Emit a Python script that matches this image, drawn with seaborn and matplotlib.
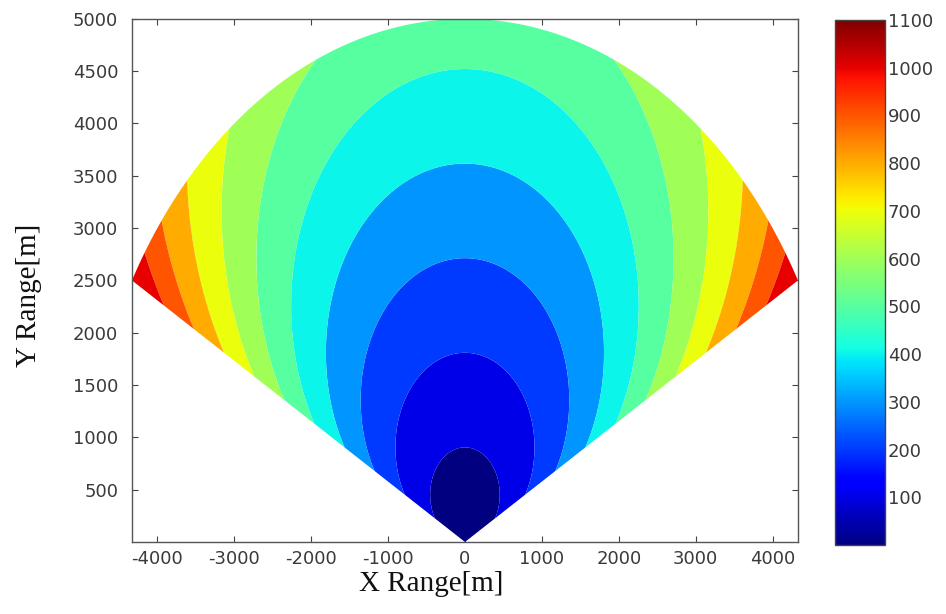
import numpy as np
import matplotlib
matplotlib.use('Agg')
import matplotlib.pyplot as plt
import seaborn as sns
from matplotlib.colors import Normalize
from matplotlib.cm import ScalarMappable

# values
levels = [0, 100, 200, 300, 400, 500, 600, 700, 800, 900, 1000, 1100]
axis_levels = [100, 200, 300, 400, 500]          # contour values crossing x = 0
axis_cross_y = [908, 1807, 2715, 3614, 4503]     # heights [m] where they cross
max_range = 5000                                 # sector radius [m]
sector_deg = [30, 150]                           # sector edges (deg from +x)
x_ticks = [-4000, -3000, -2000, -1000, 0, 1000, 2000, 3000, 4000]
y_ticks = [500, 1000, 1500, 2000, 2500, 3000, 3500, 4000, 4500, 5000]
cbar_ticks = [100, 200, 300, 400, 500, 600, 700, 800, 900, 1000, 1100]

sns.set_theme(style='white')
plt.rcParams['font.family'] = ['DejaVu Sans']
plt.rcParams['axes.unicode_minus'] = False

# value grows with range and with off-boresight angle: v = r / (k * cos(off-axis))
k = np.mean(np.array(axis_cross_y) / np.array(axis_levels))
r = np.linspace(0, max_range, 500)
th = np.deg2rad(np.linspace(sector_deg[0], sector_deg[1], 600))
R, TH = np.meshgrid(r, th)
X = R * np.cos(TH)
Y = R * np.sin(TH)
V = R / (k * np.sin(TH))
V = np.clip(V, 0, levels[-1] - 0.01)

cmap = plt.get_cmap('jet')
norm = Normalize(vmin=levels[0], vmax=levels[-1])
band_colors = [cmap(norm(v)) for v in levels[:-1]]

fig = plt.figure(figsize=(9.46, 6.14), dpi=100)
ax = fig.add_axes([0.1395, 0.1173, 0.704, 0.852])
cax = fig.add_axes([0.8827, 0.1124, 0.0529, 0.855])

ax.contourf(X, Y, V, levels=levels, colors=band_colors, antialiased=True)

ax.set_xlim(-4330, 4330)
ax.set_ylim(0, 5000)
ax.set_xticks(x_ticks)
ax.set_yticks(y_ticks)
ax.tick_params(direction='in', length=4, width=0.8, color='#444444',
               top=True, right=True, labelsize=13, labelcolor='#3a3a3a',
               bottom=True, left=True)
ax.tick_params(axis='y', pad=10)
ax.tick_params(axis='x', pad=6)
for s in ax.spines.values():
    s.set_color('#555555')
    s.set_linewidth(1.0)

ax.set_xlabel('X Range[m]', family='Liberation Serif', fontsize=21, color='#111111')
ax.xaxis.set_label_coords(0.449, -0.055)
ax.set_ylabel('Y Range[m]', family='Liberation Serif', fontsize=21, color='#111111')
ax.yaxis.set_label_coords(-0.135, 0.472)

sm = ScalarMappable(norm=norm, cmap=cmap)
cb = fig.colorbar(sm, cax=cax, ticks=cbar_ticks)
cb.outline.set_edgecolor('#444444')
cb.outline.set_linewidth(1.0)
cax.tick_params(direction='in', length=4, width=0.8, color='#444444',
                left=True, right=True, labelsize=13, labelcolor='#3a3a3a', pad=2)

fig.savefig('out.png', dpi=100)
